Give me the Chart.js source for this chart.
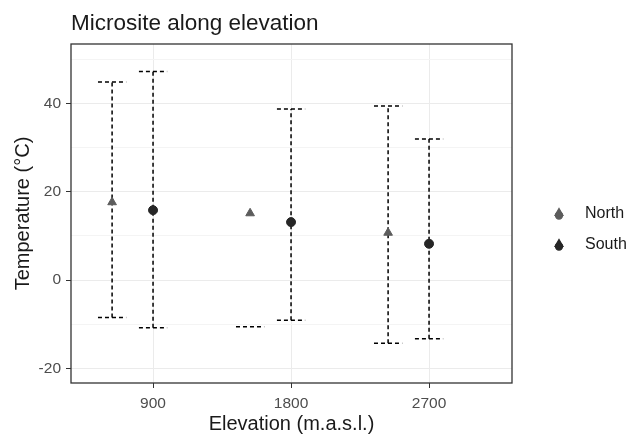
<!DOCTYPE html>
<html>
<head>
<meta charset="utf-8">
<script src="https://cdn.jsdelivr.net/npm/chart.js@4.4.1/dist/chart.umd.min.js"></script>
<style>
  html, body { margin: 0; padding: 0; background: #fff; }
</style>
</head>
<body>
<canvas id="chart" width="631" height="438"></canvas>
<script>
// data
const northElev = [633, 1533, 2433];
const northMean = [17.6, 15.1, 10.7];
const northLow = [-8.5, -10.6, -14.3];
const northHigh = [44.8, null, 39.4];

const southElev = [900, 1800, 2700];
const southMean = [15.8, 13.1, 8.2];
const southLow = [-10.8, -9.1, -13.3];
const southHigh = [47.2, 38.7, 31.9];

const xTicks = [900, 1800, 2700];
const yTicks = [-20, 0, 20, 40];

const capHalf = 92;
const font = "'Liberation Sans', Arial, sans-serif";
const dash = [4, 3];

const series = [
  { name: "North", elev: northElev, mean: northMean, low: northLow, high: northHigh, color: "#5c5c5c", style: "triangle", radius: 5 },
  { name: "South", elev: southElev, mean: southMean, low: southLow, high: southHigh, color: "#262626", style: "circle", radius: 4.5 }
];

function errLine(data) {
  return {
    data: data,
    showLine: true,
    borderColor: "#000",
    borderWidth: 1.5,
    borderDash: dash,
    pointRadius: 0,
    pointHoverRadius: 0,
    fill: false
  };
}

const datasets = series.map(s => ({
  label: s.name,
  data: s.elev.map((x, i) => ({ x: x, y: s.mean[i] })),
  pointStyle: s.style,
  pointRadius: s.radius,
  backgroundColor: s.color,
  borderColor: s.color,
  borderWidth: 1
}));

series.forEach(s => {
  s.elev.forEach((x, i) => {
    const lo = s.low[i], hi = s.high[i];
    if (lo != null) datasets.push(errLine([{ x: x - capHalf, y: lo }, { x: x + capHalf, y: lo }]));
    if (hi != null) datasets.push(errLine([{ x: x - capHalf, y: hi }, { x: x + capHalf, y: hi }]));
    if (lo != null && hi != null) datasets.push(errLine([{ x: x, y: lo }, { x: x, y: hi }]));
  });
});

// ggplot-like panel border and legend on the right
const extras = {
  id: "extras",
  afterDraw(chart) {
    const { ctx, chartArea: a } = chart;
    ctx.save();
    ctx.strokeStyle = "#333";
    ctx.lineWidth = 1.3;
    ctx.strokeRect(a.left, a.top, a.right - a.left, a.bottom - a.top);

    const lx = 559, ly = [214, 245];
    series.forEach((s, i) => {
      ctx.fillStyle = s.color;
      ctx.strokeStyle = s.color;
      Chart.helpers.drawPoint(ctx, { pointStyle: "triangle", radius: 4.5, borderWidth: 1 }, lx, ly[i] - 1);
      Chart.helpers.drawPoint(ctx, { pointStyle: "circle", radius: 3.5, borderWidth: 1 }, lx, ly[i] + 1.5);
      ctx.fillStyle = "#1a1a1a";
      ctx.font = "16px " + font;
      ctx.textBaseline = "middle";
      ctx.textAlign = "left";
      ctx.fillText(s.name, 585, ly[i]);
    });
    ctx.restore();
  }
};

new Chart(document.getElementById("chart"), {
  type: "scatter",
  data: { datasets: datasets },
  plugins: [extras],
  options: {
    responsive: false,
    animation: false,
    layout: { padding: { left: 0, right: 119, top: 0, bottom: 0 } },
    plugins: {
      legend: { display: false },
      tooltip: { enabled: false },
      title: {
        display: true,
        text: "Microsite along elevation",
        align: "start",
        fullSize: false,
        color: "#1a1a1a",
        font: { family: font, size: 22.5, weight: "normal" },
        padding: { top: 10, bottom: 7 }
      }
    },
    scales: {
      x: {
        type: "linear",
        min: 365,
        max: 3241,
        afterBuildTicks: axis => { axis.ticks = xTicks.map(v => ({ value: v })); },
        afterFit: axis => { axis.height = 55; },
        grid: { color: "#ebebeb", lineWidth: 1, tickLength: 5, tickColor: "#333", drawTicks: true },
        border: { display: false },
        ticks: {
          color: "#4d4d4d",
          padding: 7.5,
          font: { family: font, size: 15.5, lineHeight: 1 },
          maxRotation: 0,
          callback: v => String(v)
        },
        title: {
          display: true,
          text: "Elevation (m.a.s.l.)",
          color: "#1a1a1a",
          font: { family: font, size: 20, lineHeight: 1 },
          padding: { top: 0, bottom: 4 }
        }
      },
      y: {
        type: "linear",
        min: -23.3,
        max: 53.4,
        afterBuildTicks: axis => {
          const t = [];
          for (let v = -20; v <= 50; v += 10) t.push({ value: v });
          axis.ticks = t;
        },
        afterFit: axis => { axis.width = 71; },
        grid: {
          color: ctx => (ctx.tick && yTicks.includes(ctx.tick.value)) ? "#ebebeb" : "#f4f4f4",
          lineWidth: 1,
          tickLength: 5,
          tickColor: ctx => (ctx.tick && yTicks.includes(ctx.tick.value)) ? "#333" : "rgba(0,0,0,0)"
        },
        border: { display: false },
        ticks: {
          color: "#4d4d4d",
          padding: 5,
          font: { family: font, size: 15.5 },
          callback: v => yTicks.includes(v) ? String(v) : ""
        },
        title: {
          display: true,
          text: "Temperature (°C)",
          color: "#1a1a1a",
          font: { family: font, size: 20, lineHeight: 1 },
          padding: { top: 13, bottom: 0 }
        }
      }
    }
  }
});
</script>
</body>
</html>
